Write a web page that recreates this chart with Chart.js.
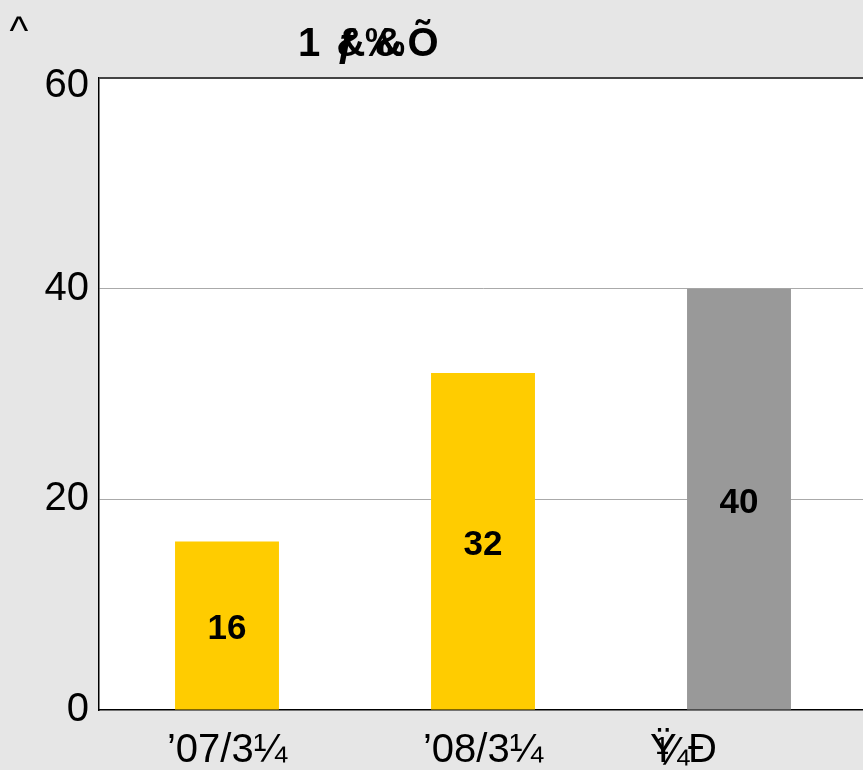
<!DOCTYPE html>
<html><head><meta charset="utf-8">
<script src="https://cdn.jsdelivr.net/npm/chart.js@4/dist/chart.umd.min.js"></script>
<style>
html,body{margin:0;padding:0;background:#e6e6e6;overflow:hidden;width:863px;height:770px}
#wrap{position:absolute;left:0;top:0;width:868px;height:770px}
</style></head><body>
<div id="wrap"><canvas id="c" width="868" height="770"></canvas></div>
<script>
const categories = ["\u201907/3\u00bc", "\u201908/3\u00bc", "\u0178\u00bc\u00d0"];
const values = [16, 32, 40];
const barColors = ["#ffcc00", "#ffcc00", "#999999"];
const yTicks = [0, 20, 40, 60];
// garbled title glyphs: each group is drawn overlapping
const titleGroups = [["1"], ["\u0192", "&"], ["\u2030", "&"], ["\u00d5", "\u25a0"]];
const cornerMark = "^";

const FONT = "Liberation Sans, Arial, sans-serif";

const bgPlugin = {
  id: 'bg',
  beforeDraw(chart) {
    const {ctx, chartArea: a} = chart;
    ctx.save();
    ctx.fillStyle = '#e6e6e6';
    ctx.fillRect(0, 0, chart.width, chart.height);
    ctx.fillStyle = '#ffffff';
    ctx.fillRect(a.left, a.top, a.right - a.left, a.bottom - a.top);
    ctx.restore();
  },
  afterDraw(chart) {
    const {ctx, chartArea: a} = chart;
    const xs = chart.scales.x;
    const ys = chart.scales.y;
    ctx.save();
    // top border
    ctx.strokeStyle = '#444';
    ctx.lineWidth = 2;
    ctx.beginPath(); ctx.moveTo(a.left, a.top); ctx.lineTo(a.right, a.top); ctx.stroke();
    // y tick labels
    ctx.fillStyle = '#000';
    ctx.font = '40px ' + FONT;
    ctx.textAlign = 'right';
    ctx.textBaseline = 'middle';
    yTicks.forEach(v => {
      const y = Math.max(ys.getPixelForValue(v), a.top + 8);
      ctx.fillText(String(v), a.left - 10, y);
    });
    // value labels
    const meta = chart.getDatasetMeta(0);
    ctx.font = 'bold 35px ' + FONT;
    ctx.textAlign = 'center';
    meta.data.forEach((bar, i) => {
      const mid = (bar.y + bar.base) / 2;
      ctx.fillText(String(values[i]), bar.x, mid + 4);
    });
    // x category labels
    ctx.font = '40px ' + FONT;
    categories.forEach((lab, i) => {
      const x = xs.getPixelForValue(i);
      if (i < 2) {
        ctx.textAlign = 'center';
        ctx.fillText(lab, x, a.bottom + 41);
      } else {
        // garbled label: first two glyphs overlap
        const chars = Array.from(lab);
        ctx.textAlign = 'left';
        const x0 = x - 89;
        ctx.fillText(chars[0], x0, a.bottom + 41);
        ctx.fillText(chars[1], x0 + 6, a.bottom + 44);
        ctx.fillText(chars[2], x0 + 38, a.bottom + 41);
      }
    });
    // title
    ctx.font = 'bold 40px ' + FONT;
    ctx.textAlign = 'center';
    const cx = (a.left + 863) / 2 - 115;
    const step = 38;
    const startX = cx - step * (titleGroups.length - 1) / 2;
    titleGroups.forEach((g, i) => {
      g.forEach((ch, j) => {
        if (ch === "\u25a0") return;
        ctx.fillText(ch, startX + i * step + (j ? 4 : 0), 45);
      });
    });
    // corner mark
    ctx.font = '40px ' + FONT;
    ctx.textAlign = 'center';
    ctx.fillText(cornerMark, 19, 33);
    ctx.restore();
  }
};

new Chart(document.getElementById('c'), {
  type: 'bar',
  data: {
    labels: categories,
    datasets: [{
      data: values,
      backgroundColor: barColors,
      borderWidth: 0,
      categoryPercentage: 1,
      barPercentage: 0.406
    }]
  },
  options: {
    responsive: false,
    animation: false,
    devicePixelRatio: 1,
    layout: {padding: {left: 0, top: 78, right: 1, bottom: 0}},
    plugins: {legend: {display: false}, tooltip: {enabled: false}, title: {display: false}},
    scales: {
      x: {
        ticks: {display: false},
        grid: {display: false, drawTicks: false},
        border: {display: true, color: '#000', width: 1.5},
        afterFit(s) { s.height = 60; }
      },
      y: {
        min: 0, max: 60,
        afterBuildTicks(s) { s.ticks = yTicks.map(v => ({value: v})); },
        ticks: {display: false},
        grid: {
          drawTicks: false,
          color: (c) => (c.tick && (c.tick.value === 0 || c.tick.value === 60)) ? 'rgba(0,0,0,0)' : '#aaaaaa',
          lineWidth: 1
        },
        border: {display: true, color: '#000', width: 1.5},
        afterFit(s) { s.width = 99; }
      }
    }
  },
  plugins: [bgPlugin]
});
</script>
</body></html>
